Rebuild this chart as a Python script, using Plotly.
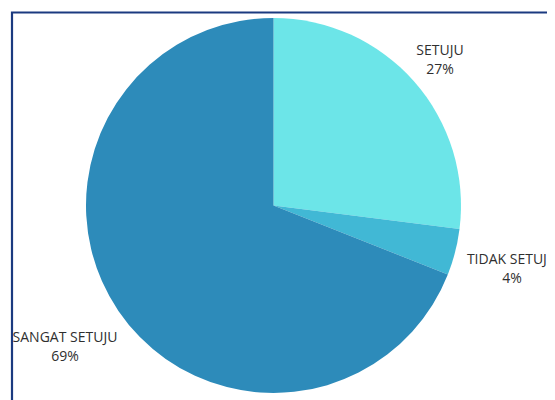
import plotly.graph_objects as go

# ---- data ----
categories = ["SETUJU", "TIDAK SETUJU", "SANGAT SETUJU"]
values = [27, 4, 69]
colors = ["#6CE5E8", "#41B8D5", "#2D8BBA"]

# label anchor positions (page pixels, from top-left)
label_x = [440, 512, 65]
label_y = [61, 270, 348]

OFF = 8  # default page body margin
W, H = 555 - OFF, 400 - OFF
cx, cy, R = 273.5 - OFF, 205.5 - OFF, 187.5

fig = go.Figure()
fig.add_trace(go.Pie(
    labels=categories,
    values=values,
    sort=False,
    direction="clockwise",
    rotation=0,
    marker=dict(colors=colors, line=dict(width=0)),
    textinfo="none",
    hoverinfo="label+percent",
    showlegend=False,
    domain=dict(x=[(cx - R) / W, (cx + R) / W], y=[1 - (cy + R) / H, 1 - (cy - R) / H]),
))

total = sum(values)
texts = [f"{c}<br>{round(v / total * 100)}%" for c, v in zip(categories, values)]
fig.add_trace(go.Scatter(
    x=[x - OFF for x in label_x], y=[y - OFF for y in label_y], mode="text", text=texts,
    textposition="middle center",
    textfont=dict(family="Open Sans, Lato, sans-serif", size=14, color="#2f2f2f"),
    hoverinfo="skip", showlegend=False,
))

fig.update_layout(
    width=W, height=H,
    margin=dict(l=0, r=0, t=0, b=0),
    paper_bgcolor="white", plot_bgcolor="rgba(0,0,0,0)",
    xaxis=dict(range=[0, W], visible=False, domain=[0, 1], fixedrange=True),
    yaxis=dict(range=[H, 0], visible=False, domain=[0, 1], fixedrange=True),
    shapes=[
        dict(type="rect", xref="x", yref="y", x0=-10, x1=11 - OFF, y0=-10, y1=H + 10,
             fillcolor="white", line=dict(width=0), layer="above"),
        dict(type="rect", xref="x", yref="y", x0=12 - OFF, x1=W + 20, y0=12.5 - OFF, y1=H + 20,
             fillcolor="rgba(0,0,0,0)", line=dict(color="#1B3A80", width=2.2), layer="above"),
    ],
)

fig.write_html("out.html")
